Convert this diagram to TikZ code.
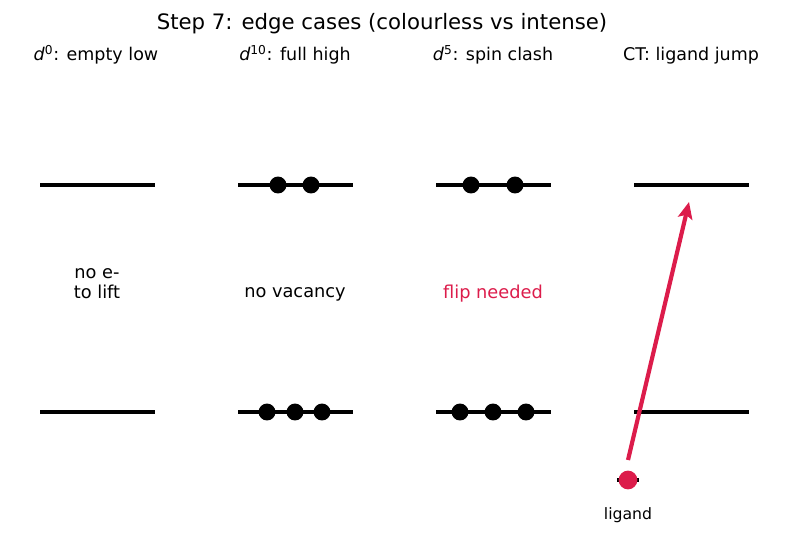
\documentclass[tikz,border=0pt]{standalone}
\usepackage{fontspec}
\setmainfont{DejaVu Sans}
\usetikzlibrary{arrows.meta}
\definecolor{crim}{HTML}{DC1C4B}
\tikzset{
  level/.style={line width=3.3pt},
  elec/.style={circle,fill=black,inner sep=0pt,minimum size=12.2pt},
  lab/.style={font=\fontsize{12.6}{15}\selectfont,inner sep=0pt},
  captext/.style={font=\fontsize{12.8}{14.5}\selectfont,inner sep=0pt,align=center}
}
\begin{document}
\begin{tikzpicture}[x=0.72pt,y=-0.72pt]
\useasboundingbox (0,0) rectangle (787,539);
\node[font=\fontsize{15.3}{18}\selectfont,inner sep=0pt] (title) at (382,24) {Step 7: edge cases (colourless vs intense)};
% column headers
\node[lab] (h1) at (96,55) {\textit{d}\textsuperscript{0}: empty low};
\node[lab] (h2) at (295,55) {\textit{d}\textsuperscript{10}: full high};
\node[lab] (h3) at (493,55) {\textit{d}\textsuperscript{5}: spin clash};
\node[lab] (h4) at (691,56) {CT: ligand jump};
% levels
\foreach \cx/\n in {97/a,295/b,493/c,691/d}{
  \coordinate (\n u1) at (\cx-57,185); \coordinate (\n u2) at (\cx+58,185);
  \coordinate (\n l1) at (\cx-57,412); \coordinate (\n l2) at (\cx+58,412);
  \draw[level] (\n u1) -- (\n u2);
  \draw[level] (\n l1) -- (\n l2);
}
% electrons
\node[elec] (e1) at (278,185) {};
\node[elec] (e2) at (311,185) {};
\node[elec] (e3) at (267,412) {};
\node[elec] (e4) at (295,412) {};
\node[elec] (e5) at (322,412) {};
\node[elec] (e6) at (471,185) {};
\node[elec] (e7) at (515,185) {};
\node[elec] (e8) at (460,412) {};
\node[elec] (e9) at (493,412) {};
\node[elec] (e10) at (526,412) {};
% captions
\node[captext] (c1) at (97,284) {no e-\\to lift};
\node[captext] (c2) at (295,294) {no vacancy};
\node[captext,text=crim] (c3) at (493,294) {flip needed};
% ligand
\coordinate (ll1) at (617,480); \coordinate (ll2) at (639,480);
\draw[level] (ll1) -- (ll2);
\node[circle,fill=crim,inner sep=0pt,minimum size=13.5pt] (lig) at (628,480) {};
\node[font=\fontsize{11.3}{13}\selectfont,inner sep=0pt] (ligl) at (628,515) {ligand};
\coordinate (tip) at (689,202);
\coordinate (tail) at (628,460);
\draw[crim,line width=3pt,-{Stealth[length=12pt,width=10.5pt,inset=2.5pt]}] (tail) -- (tip);
\end{tikzpicture}
\end{document}
